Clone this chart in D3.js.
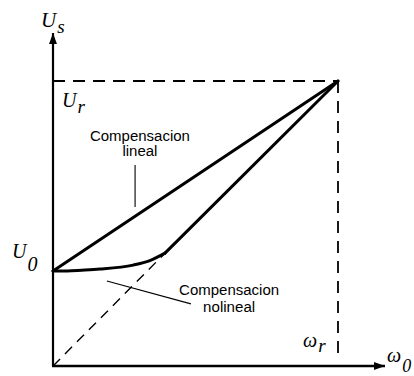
<!DOCTYPE html>
<html>
<head>
<meta charset="utf-8">
<script src="https://cdn.jsdelivr.net/npm/d3@7"></script>
<style>
  html, body { margin: 0; padding: 0; background: #fff; }
  svg { display: block; }
</style>
</head>
<body>
<div id="chart"></div>
<script>
// 画布尺寸
const width = 414;
const height = 376;

// 数据 (ω/ωr, Us/Ur)
const U0 = 0.333;
const linealPts = [[0, U0], [1, 1]];
const nolinealCurve = [[0, 0.333], [0.05, 0.3335], [0.1, 0.336], [0.165, 0.340], [0.281, 0.354], [0.340, 0.370], [0.393, 0.396]];
const nolinealRecta = [[0.393, 0.396], [1, 1]];
const diagonal = [[0, 0], [0.393, 0.396]];
const refLines = [[[0, 1], [1, 1]], [[1, 1], [1, 0.02]]];
const axisEnd = { x: 1.165, y: 1.168 };

// 注释数据
const leaders = [
  [[0.288, 0.705], [0.288, 0.558]],
  [[0.189, 0.298], [0.484, 0.218]]
];
const notes = [
  { x: 0.305, y: 0.789, text: "Compensacion", w: 100 },
  { x: 0.305, y: 0.737, text: "lineal", w: 35 },
  { x: 0.618, y: 0.249, text: "Compensacion", w: 100 },
  { x: 0.618, y: 0.189, text: "nolineal", w: 52 }
];

// 比例尺
const x = d3.scaleLinear().domain([0, 1]).range([53, 338]);
const y = d3.scaleLinear().domain([0, 1]).range([366, 81]);

const svg = d3.select("#chart")
  .append("svg")
  .attr("width", width)
  .attr("height", height);

svg.append("rect").attr("width", width).attr("height", height).attr("fill", "#fff");

// 箭头
svg.append("defs").append("marker")
  .attr("id", "arrow")
  .attr("markerUnits", "userSpaceOnUse")
  .attr("markerWidth", 12)
  .attr("markerHeight", 10)
  .attr("viewBox", "0 -5 12 10")
  .attr("refX", 11)
  .attr("refY", 0)
  .attr("orient", "auto")
  .append("path")
  .attr("d", "M0,-4L11,0L0,4Z")
  .attr("fill", "#000");

const line = d3.line().x(d => x(d[0])).y(d => y(d[1]));

// 参考虚线
svg.append("g")
  .selectAll("path")
  .data(refLines)
  .join("path")
  .attr("d", line)
  .attr("fill", "none")
  .attr("stroke", "#000")
  .attr("stroke-width", 1.8)
  .attr("stroke-dasharray", "12,8");

svg.append("path")
  .attr("d", line(diagonal))
  .attr("fill", "none")
  .attr("stroke", "#000")
  .attr("stroke-width", 1.4)
  .attr("stroke-dasharray", "10,7");

// 坐标轴
svg.append("line")
  .attr("x1", x(0)).attr("y1", y(0))
  .attr("x2", x(0)).attr("y2", y(axisEnd.y))
  .attr("stroke", "#000").attr("stroke-width", 2.2)
  .attr("marker-end", "url(#arrow)");

svg.append("line")
  .attr("x1", x(0) - 1).attr("y1", y(0))
  .attr("x2", x(axisEnd.x)).attr("y2", y(0))
  .attr("stroke", "#000").attr("stroke-width", 2.4)
  .attr("marker-end", "url(#arrow)");

// 补偿曲线
const thick = svg.append("g")
  .attr("fill", "none")
  .attr("stroke", "#000")
  .attr("stroke-width", 3)
  .attr("stroke-linecap", "round")
  .attr("stroke-linejoin", "round");

thick.append("path").attr("d", line(linealPts));
thick.append("path").attr("d", d3.line().x(d => x(d[0])).y(d => y(d[1])).curve(d3.curveMonotoneX)(nolinealCurve));
thick.append("path").attr("d", line(nolinealRecta));

// 引线
svg.append("g")
  .selectAll("path")
  .data(leaders)
  .join("path")
  .attr("d", line)
  .attr("stroke", "#000")
  .attr("stroke-width", 1.1);

// 注释文字
svg.append("g")
  .selectAll("text")
  .data(notes)
  .join("text")
  .attr("x", d => x(d.x))
  .attr("y", d => y(d.y))
  .attr("text-anchor", "middle")
  .style("font-family", "'Liberation Sans', Arial, sans-serif")
  .style("font-size", "14px")
  .attr("textLength", d => d.w)
  .attr("lengthAdjust", "spacingAndGlyphs")
  .text(d => d.text);

// 数学符号标签
function mathLabel(px, py, main, sub, size, subSize, dy) {
  const t = svg.append("text")
    .attr("x", px)
    .attr("y", py)
    .style("font-family", "'Liberation Serif', 'Times New Roman', serif")
    .style("font-style", "italic")
    .style("font-size", size + "px");
  t.append("tspan").text(main);
  t.append("tspan")
    .attr("dy", dy)
    .attr("dx", 1)
    .style("font-size", subSize + "px")
    .text(sub);
}

mathLabel(x(0) - 12, y(axisEnd.y) - 6, "U", "s", 21, 19, 6);
mathLabel(x(0) + 9, y(1) + 26, "U", "r", 20, 19, 6);
mathLabel(x(0) - 41, y(U0) - 13, "U", "0", 20, 20, 13);
mathLabel(x(1) - 35, y(0) - 19, "ω", "r", 20, 19, 5);
mathLabel(x(axisEnd.x) + 2, y(0) - 4, "ω", "0", 20, 18, 10);
</script>
</body>
</html>
